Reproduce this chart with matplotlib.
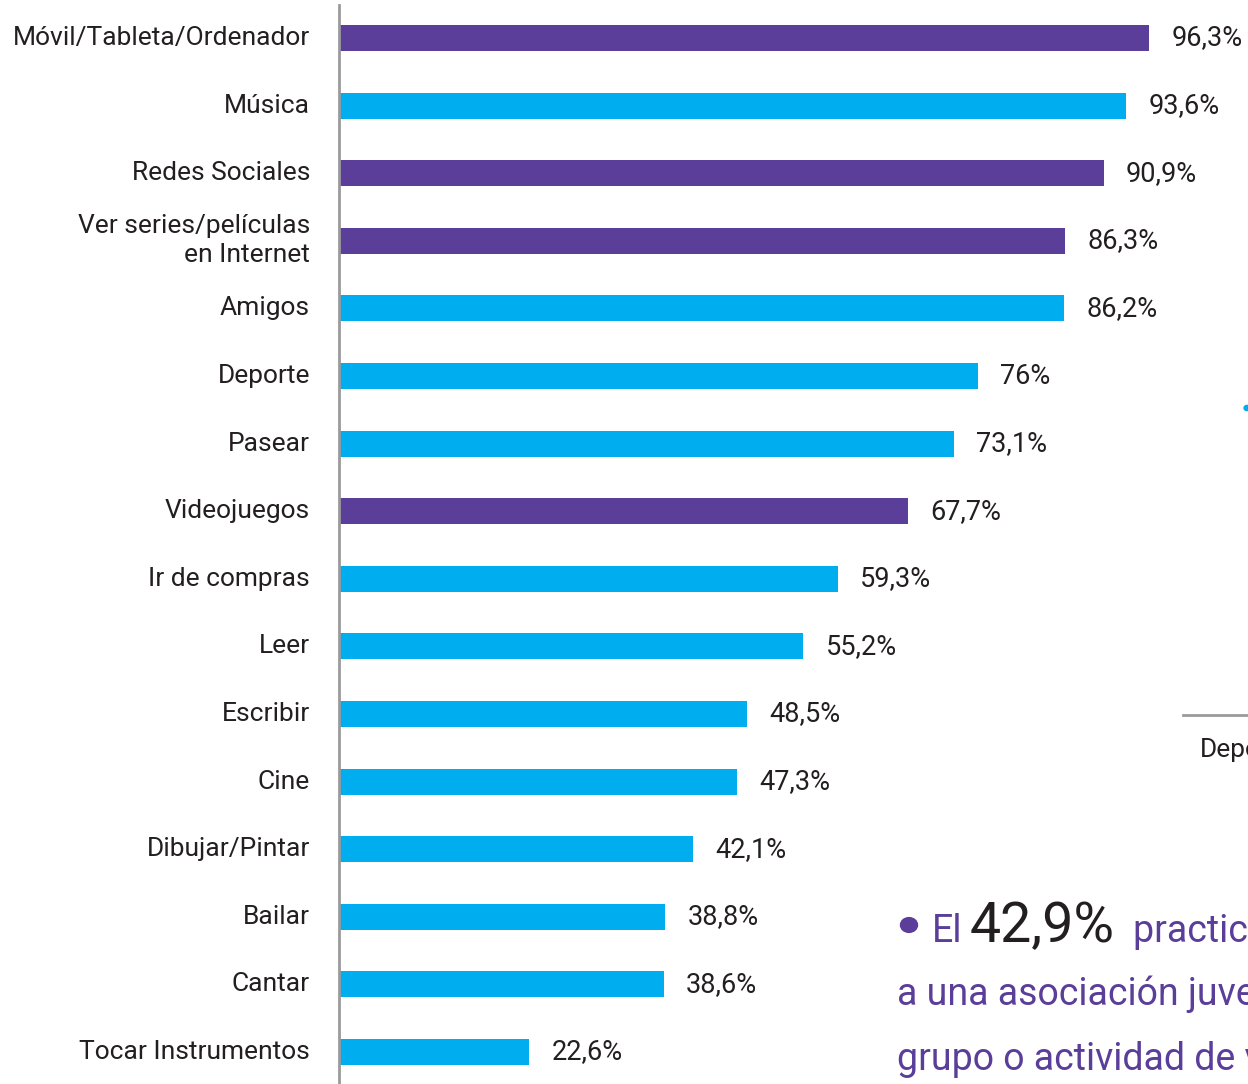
import matplotlib
matplotlib.use("Agg")
import matplotlib.pyplot as plt

# data, top to bottom
categories = ["Móvil/Tableta/Ordenador", "Música", "Redes Sociales",
              "Ver series/películas\nen Internet", "Amigos", "Deporte", "Pasear",
              "Videojuegos", "Ir de compras", "Leer", "Escribir", "Cine",
              "Dibujar/Pintar", "Bailar", "Cantar", "Tocar Instrumentos"]
values = [96.3, 93.6, 90.9, 86.3, 86.2, 76, 73.1, 67.7, 59.3, 55.2, 48.5,
          47.3, 42.1, 38.8, 38.6, 22.6]
value_labels = ["96,3%", "93,6%", "90,9%", "86,3%", "86,2%", "76%", "73,1%",
                "67,7%", "59,3%", "55,2%", "48,5%", "47,3%", "42,1%", "38,8%",
                "38,6%", "22,6%"]
digital = [True, False, True, True, False, False, False, True, False, False,
           False, False, False, False, False, False]

PURPLE = "#5a3e99"
CYAN = "#00aeef"
DARK = "#231f20"

plt.rcParams['font.family'] = ["Roboto", "DejaVu Sans"]

W, H = 1248, 1084
fig = plt.figure(figsize=(W / 100, H / 100), dpi=100)

x0 = 339
ax = fig.add_axes([x0 / W, 0, 1 - x0 / W, 1])
px_per_pct = (1149 - x0) / 96.3
ax.set_xlim(0, (W - x0) / px_per_pct)
step = (1052 - 38) / 15
ax.set_ylim(15 + (H - 1052) / step, -38 / step)

ypos = list(range(len(categories)))
colors = [PURPLE if d else CYAN for d in digital]
ax.barh(ypos, values, height=26 / step, color=colors, zorder=2)

for y, v, lab in zip(ypos, values, value_labels):
    ax.annotate(lab, (v, y), xytext=(16, 0), textcoords="offset points",
                va="center", ha="left", fontsize=19.5, color=DARK)

for y, c in zip(ypos, categories):
    fig.text(310 / W, 1 - (38 + y * step) / H, c, ha="right", va="center",
             fontsize=19, color=DARK, linespacing=1.25)

for s in ["top", "right", "bottom"]:
    ax.spines[s].set_visible(False)
ax.spines["left"].set_color("#9a9a9e")
ax.spines["left"].set_linewidth(2)
ax.spines["left"].set_bounds(15 + (H - 1052) / step, (5 - 38) / step)
ax.set_xticks([])
ax.set_yticks([])
ax.patch.set_visible(False)

# pieces of the neighbouring panel
fig.add_artist(plt.Line2D([1183 / W, 1], [1 - 715 / H, 1 - 715 / H],
                          color="#9a9a9e", lw=2))
fig.text(1200 / W, 1 - 750 / H, "Deporte", fontsize=19, color=DARK,
         ha="left", va="center")
fig.add_artist(plt.Circle((1247 / W, 1 - 408 / H), 3 / W, color=CYAN,
                          transform=fig.transFigure))

# side text
fig.add_artist(plt.Circle((909 / W, 1 - 925 / H), 8.5 / W, color=PURPLE,
                          transform=fig.transFigure))
fig.text(932 / W, 1 - 942 / H, "El", fontsize=27, color=PURPLE,
         va="baseline")
fig.text(970 / W, 1 - 942 / H, "42,9%", fontsize=40, color=DARK,
         va="baseline")
fig.text(1133 / W, 1 - 942 / H, "practica deporte", fontsize=27,
         color=PURPLE, va="baseline")
fig.text(897 / W, 1 - 1005 / H, "a una asociación juvenil,", fontsize=27,
         color=PURPLE, va="baseline")
fig.text(897 / W, 1 - 1070 / H, "grupo o actividad de voluntariado",
         fontsize=27, color=PURPLE, va="baseline")

fig.savefig("out.png", dpi=100)
